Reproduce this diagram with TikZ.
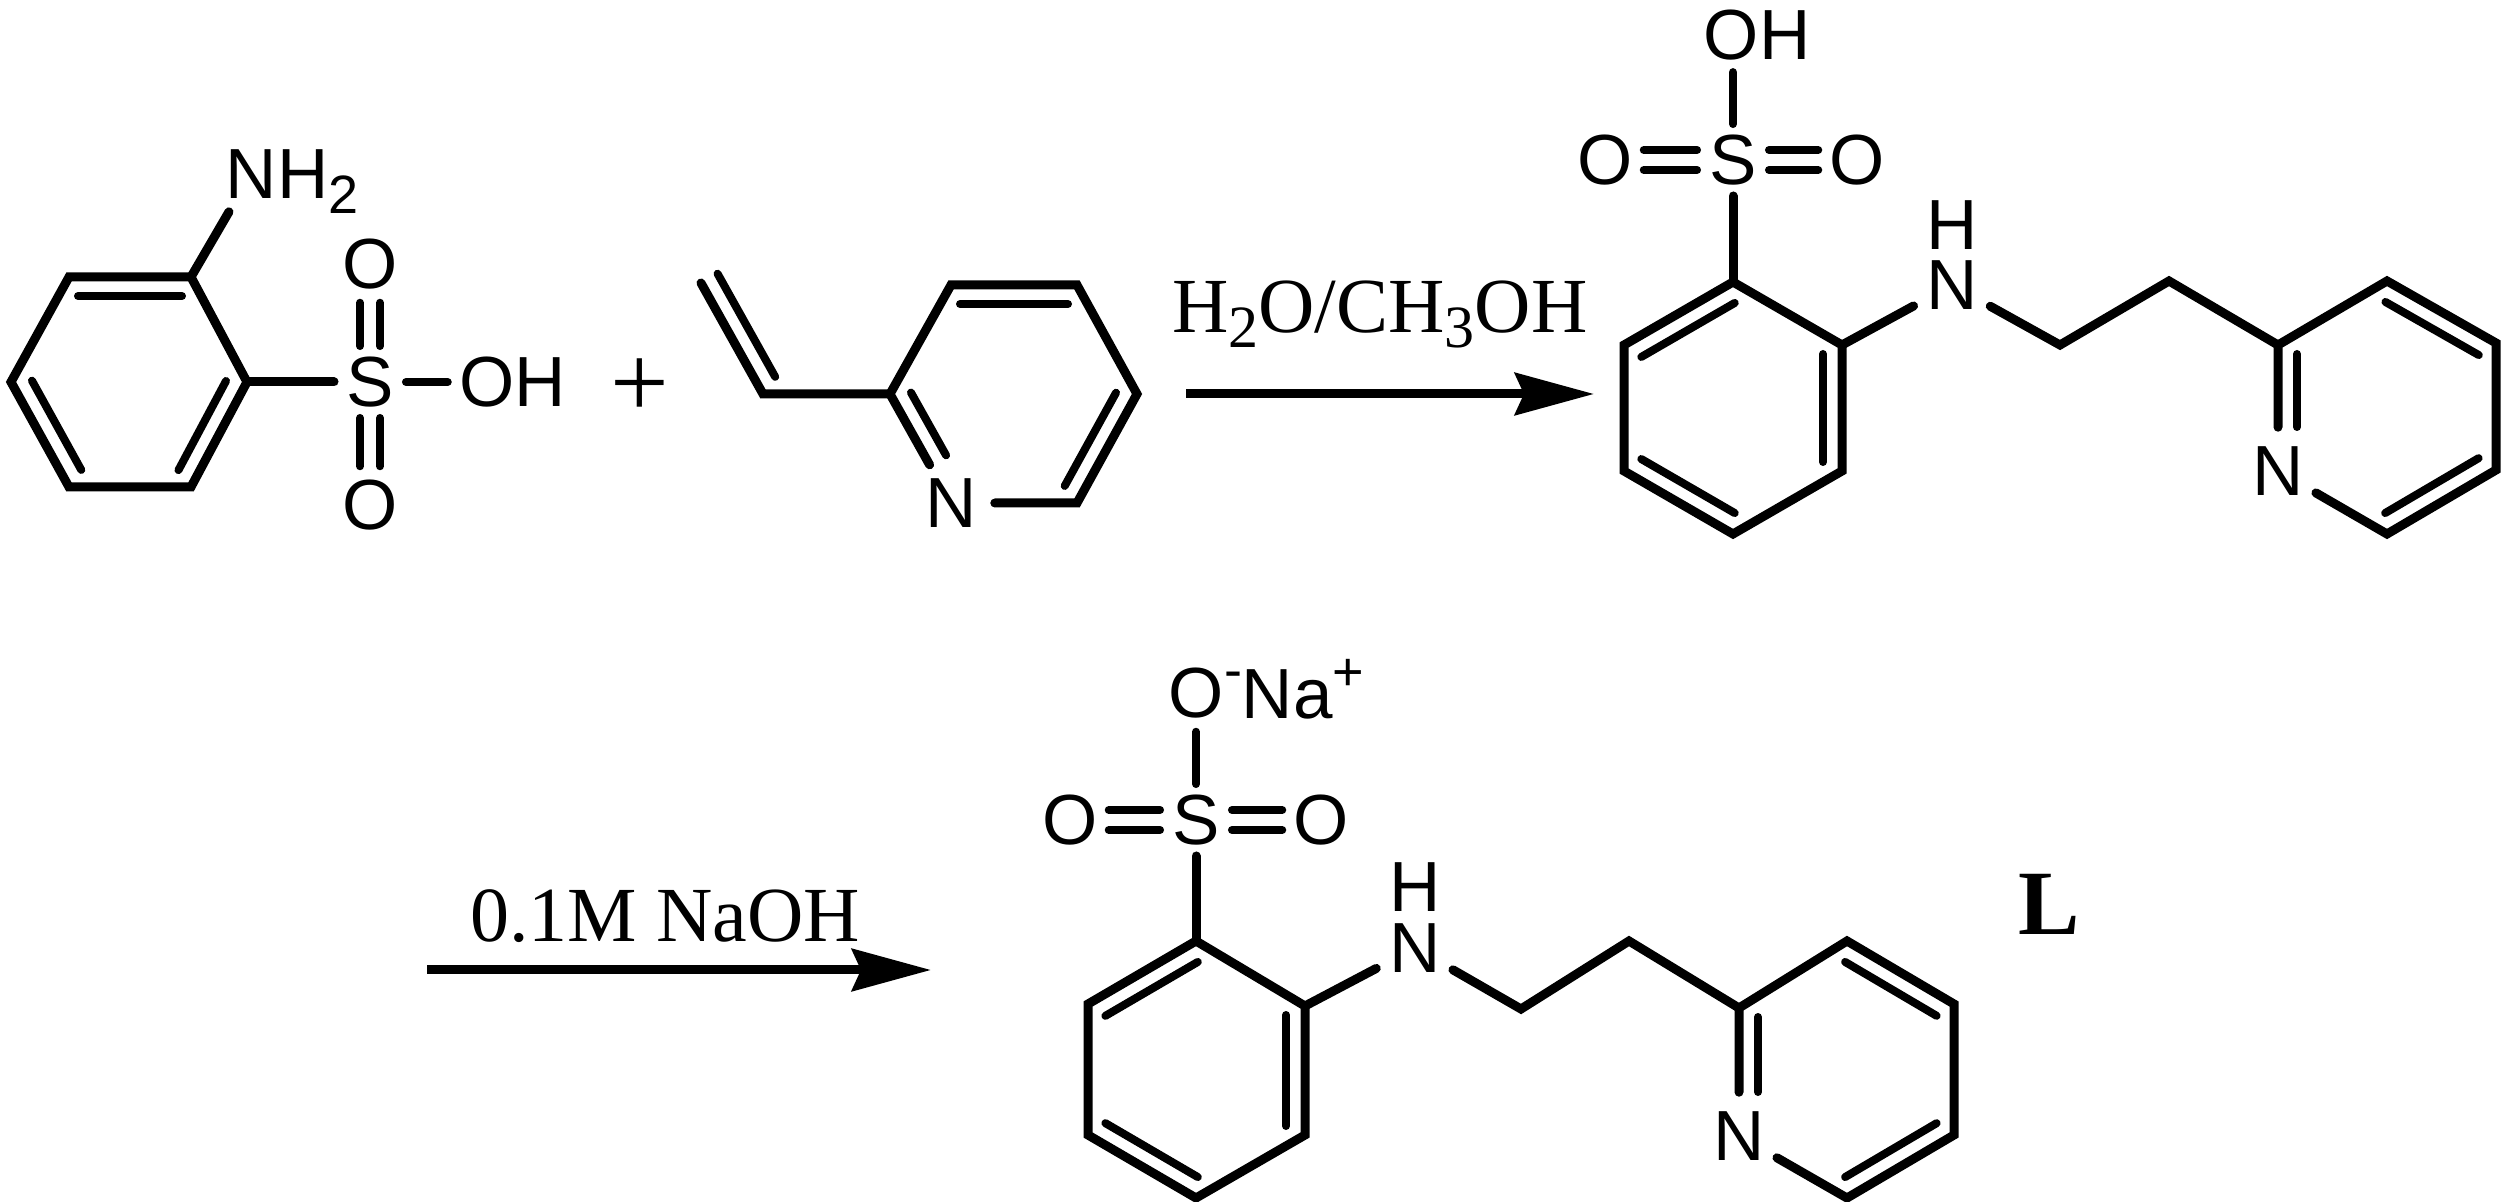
\documentclass[tikz,border=0pt]{standalone}
\usepackage{fontspec}
\setmainfont{Liberation Serif}
\newfontfamily\sanschem{Liberation Sans}
\usetikzlibrary{arrows.meta,calc}
\newcommand{\atomfont}{\sanschem\fontsize{35.5pt}{35.5pt}\selectfont}
\newcommand{\reagentfont}{\fontsize{39pt}{39pt}\selectfont}
\newcommand{\lowsub}[2][30pt]{\raisebox{-7.5pt}{\fontsize{#1}{#1}\selectfont #2}}
\newcommand{\highsup}[2]{\raisebox{#1}{\fontsize{27pt}{27pt}\selectfont #2}}
\tikzset{
  bond/.style={line width=4.5pt,line cap=round,miter limit=10},
  innerbond/.style={line width=4pt,line cap=round,shorten <=4.5pt,shorten >=4.5pt},
  sobond/.style={line width=4pt,line cap=round},
  atom/.style={circle,inner sep=.5pt,outer sep=0pt,font=\atomfont},
  atomn/.style={atom,inner sep=3pt},
  group/.style={rectangle,inner sep=6pt,outer sep=0pt,font=\atomfont},
  plain/.style={inner sep=0pt,outer sep=0pt,anchor=base west},
  reagent/.style={plain,font=\reagentfont},
  rxn/.style={line width=4.5pt,-{Stealth[length=39.5pt,width=21pt,inset=4.5pt]}}
}
\newcommand{\dbond}[3][]{\draw [innerbond,#1] ($(#2)!9.5pt!-90:(#3)$) -- ($(#3)!9.5pt!90:(#2)$);}
\newcommand{\vdouble}[2]{\draw [sobond,transform canvas={xshift=-5pt}] (#1) -- (#2);
  \draw [sobond,transform canvas={xshift=5pt}] (#1) -- (#2);}
\newcommand{\hdouble}[2]{\draw [sobond,transform canvas={yshift=-5pt}] (#1) -- (#2);
  \draw [sobond,transform canvas={yshift=5pt}] (#1) -- (#2);}
\begin{document}
\begin{tikzpicture}[x=.5pt,y=-.5pt,line join=miter]
\useasboundingbox (0,0) rectangle (2502,1202);

\coordinate (a1) at (69,277);
\coordinate (a2) at (191,277);
\coordinate (a3) at (247,382);
\coordinate (a4) at (191,487);
\coordinate (a5) at (69,487);
\coordinate (a6) at (11,382);
\node [atomn] at (251,174) (n1) {N};
\node [plain,font=\atomfont] at (277,199) (h1) {H\lowsub[27pt]{2}};
\node [atom] at (370,382) (s1) {S};
\node [atom] at (370,264) (o1) {O};
\node [atom] at (370,505) (o2) {O};
\node [group] at (513,382) (oh1) {OH};
\draw [bond] (a1) -- (a2) -- (a3) -- (a4) -- (a5) -- (a6) -- cycle;
\dbond{a1}{a2}
\dbond{a3}{a4}
\dbond{a5}{a6}
\draw [bond] (a2) -- (n1);
\draw [bond] (a3) -- (s1);
\draw [sobond] (s1) -- (oh1);
\vdouble{s1}{o1}
\vdouble{s1}{o2}

\node [plain,font=\fontsize{52pt}{52pt}\selectfont,anchor=center] at (640,388) (plus) {+};

\coordinate (v1) at (701,283);
\coordinate (v2) at (763,394);
\coordinate (b1) at (890,394);
\coordinate (b2) at (951,285);
\coordinate (b3) at (1077,285);
\coordinate (b4) at (1137,394);
\coordinate (b5) at (1077,503);
\node [atomn] at (951,503) (n2) {N};
\draw [bond] (v1) -- (v2) -- (b1);
\dbond[shorten >=0pt]{v2}{v1}
\draw [bond] (n2) -- (b1) -- (b2) -- (b3) -- (b4) -- (b5) -- (n2);
\dbond[shorten <=22pt]{n2}{b1}
\dbond{b2}{b3}
\dbond{b4}{b5}

\node [reagent] at (1172,333) (r1) {H\lowsub{2}O/CH\lowsub{3}OH};
\coordinate (p1) at (1186,394);
\coordinate (p2) at (1594,394);
\draw [rxn] (p1) -- (p2);

\coordinate (c1) at (1733,282);
\coordinate (c2) at (1842,345);
\coordinate (c3) at (1842,471);
\coordinate (c4) at (1733,534);
\coordinate (c5) at (1624,471);
\coordinate (c6) at (1624,345);
\coordinate (c7) at (2060,345);
\coordinate (c8) at (2169,281);
\coordinate (d1) at (2278,345);
\coordinate (d2) at (2387,281);
\coordinate (d3) at (2496,343);
\coordinate (d4) at (2496,470);
\coordinate (d5) at (2387,534);
\node [atom] at (1733,160) (s2) {S};
\node [atom] at (1605,160) (o3) {O};
\node [atom] at (1857,160) (o4) {O};
\node [group] at (1757,35) (oh2) {OH};
\node [atom] at (1952,225) (h2) {H};
\node [atomn] at (1952,285) (n3) {N};
\node [atomn] at (2278,471) (n4) {N};
\draw [bond] (c1) -- (c2) -- (c3) -- (c4) -- (c5) -- (c6) -- cycle;
\dbond{c6}{c1}
\dbond{c2}{c3}
\dbond{c4}{c5}
\draw [bond] (c1) -- (s2);
\draw [sobond] (s2) -- (s2 |- oh2.south);
\hdouble{s2}{o3}
\hdouble{s2}{o4}
\draw [bond] (c2) -- (n3);
\draw [bond] (n3) -- (c7) -- (c8) -- (d1);
\draw [bond] (n4) -- (d1) -- (d2) -- (d3) -- (d4) -- (d5) -- (n4);
\dbond[shorten <=22pt]{n4}{d1}
\dbond{d2}{d3}
\dbond{d4}{d5}

\node [reagent] at (470,942) (r2) {0.1M NaOH};
\coordinate (p3) at (427,970);
\coordinate (p4) at (931,970);
\draw [rxn] (p3) -- (p4);

\coordinate (e1) at (1196,941);
\coordinate (e2) at (1305,1006);
\coordinate (e3) at (1305,1135);
\coordinate (e4) at (1196,1198);
\coordinate (e5) at (1088,1135);
\coordinate (e6) at (1088,1004);
\coordinate (e7) at (1521,1009);
\coordinate (e8) at (1629,941);
\coordinate (f1) at (1739,1008);
\coordinate (f2) at (1847,941);
\coordinate (f3) at (1954,1004);
\coordinate (f4) at (1954,1135);
\coordinate (f5) at (1847,1198);
\node [atom] at (1196,820) (s3) {S};
\node [atom] at (1070,820) (o5) {O};
\node [atom] at (1321,820) (o6) {O};
\node [atom] at (1196,693) (o7) {O};
\node [plain,font=\atomfont] at (1224,719) (na) {\highsup{15pt}{-}Na\highsup{14pt}{+}};
\node [atom] at (1415,887) (h3) {H};
\node [atomn] at (1415,948) (n5) {N};
\node [atomn] at (1739,1136) (n6) {N};
\node [reagent,font=\bfseries\fontsize{46pt}{46pt}\selectfont] at (2018,935) (ligand) {L};
\draw [bond] (e1) -- (e2) -- (e3) -- (e4) -- (e5) -- (e6) -- cycle;
\dbond{e6}{e1}
\dbond{e2}{e3}
\dbond{e4}{e5}
\draw [bond] (e1) -- (s3);
\draw [sobond] (s3) -- (o7);
\hdouble{s3}{o5}
\hdouble{s3}{o6}
\draw [bond] (e2) -- (n5);
\draw [bond] (n5) -- (e7) -- (e8) -- (f1);
\draw [bond] (n6) -- (f1) -- (f2) -- (f3) -- (f4) -- (f5) -- (n6);
\dbond[shorten <=22pt]{n6}{f1}
\dbond{f2}{f3}
\dbond{f4}{f5}
\end{tikzpicture}
\end{document}
